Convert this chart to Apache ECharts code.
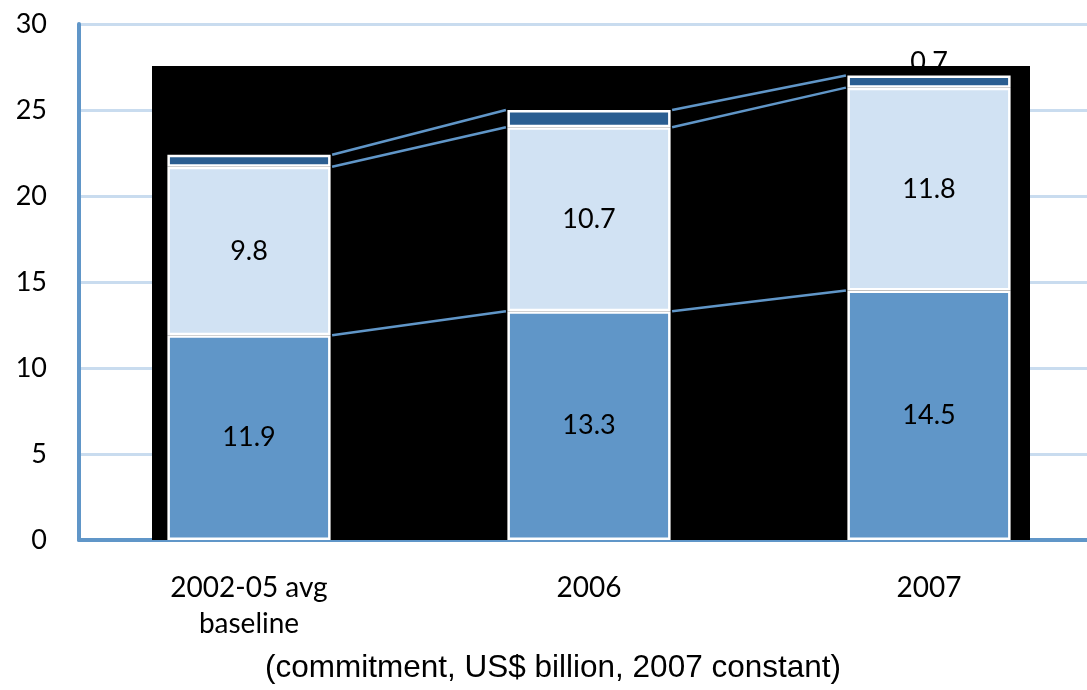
<!DOCTYPE html>
<html>
<head>
<meta charset="utf-8">
<script src="https://cdn.jsdelivr.net/npm/echarts@6/dist/echarts.min.js"></script>
<style>
html,body{margin:0;padding:0;background:#fff;}
#chart{width:1087px;height:690px;}
</style>
</head>
<body>
<div id="chart"></div>
<script>
// ---- data ----
const categories = ['2002-05 avg\nbaseline', '2006', '2007'];
const seriesBase = [11.9, 13.3, 14.5];
const seriesMiddle = [9.8, 10.7, 11.8];
const seriesTop = [0.7, 1.0, 0.7];
const yTicks = [0, 5, 10, 15, 20, 25, 30];
const axisTitle = '(commitment, US$ billion, 2007 constant)';

// cumulative tops used for connector lines
const cum1 = seriesBase.slice();
const cum2 = seriesBase.map((v, i) => v + seriesMiddle[i]);
const cum3 = cum2.map((v, i) => v + seriesTop[i]);
const connectorData = [];
[cum1, cum2, cum3].forEach(c => {
  for (let i = 0; i < c.length - 1; i++) connectorData.push([i, c[i], c[i + 1]]);
});

const BAR_FRAC = 0.48;
const chart = echarts.init(document.getElementById('chart'));
const font = 'Lato, "Open Sans", sans-serif';
const labelStyle = { show: true, color: '#000', fontSize: 27, fontFamily: font };

chart.setOption({
  animation: false,
  backgroundColor: '#fff',
  grid: { left: 79, top: 24, bottom: 150, width: 1020, containLabel: false, outerBoundsMode: 'none' },
  xAxis: {
    type: 'category',
    data: categories,
    boundaryGap: true,
    axisLine: { show: true, lineStyle: { color: '#6096c8', width: 4 } },
    axisTick: { show: false },
    axisLabel: { color: '#000', fontSize: 28, fontFamily: font, margin: 30, lineHeight: 36 },
    name: axisTitle,
    nameLocation: 'middle',
    nameGap: 112,
    nameTextStyle: { color: '#000', fontSize: 31.5, fontFamily: '"Liberation Sans", Arial, sans-serif', padding: [0, 0, 0, -72] }
  },
  yAxis: {
    type: 'value',
    min: 0, max: 30, interval: 5,
    axisLine: { show: true, lineStyle: { color: '#6096c8', width: 4 } },
    axisTick: { show: false },
    axisLabel: { color: '#000', fontSize: 27, fontFamily: font, margin: 32,
      formatter: v => yTicks.includes(v) ? String(v) : '' },
    splitLine: { show: true, lineStyle: { color: '#c9dcef', width: 3 } }
  },
  graphic: [{
    type: 'rect', z: 1,
    shape: { x: 152, y: 66, width: 878, height: 474 },
    style: { fill: '#000' }
  }],
  series: [
    {
      type: 'bar', stack: 'a', data: seriesBase, barWidth: (BAR_FRAC * 100) + '%', z: 3,
      itemStyle: { color: '#6096c8', borderColor: '#fff', borderWidth: 2.5 },
      label: Object.assign({ position: 'inside' }, labelStyle)
    },
    {
      type: 'bar', stack: 'a', data: seriesMiddle, z: 3,
      itemStyle: { color: '#d1e2f3', borderColor: '#fff', borderWidth: 2.5 },
      label: Object.assign({ position: 'inside' }, labelStyle)
    },
    {
      type: 'bar', stack: 'a', data: seriesTop, z: 3,
      itemStyle: { color: '#2a5e91', borderColor: '#fff', borderWidth: 2.5 },
      label: Object.assign({ position: 'top', distance: 0 }, labelStyle)
    },
    {
      type: 'custom', z: 4,
      data: connectorData,
      encode: { x: 0, y: 1 },
      renderItem: function (params, api) {
        const i = api.value(0);
        const p1 = api.coord([i, api.value(1)]);
        const p2 = api.coord([i + 1, api.value(2)]);
        const band = api.size([1, 0])[0];
        const half = band * BAR_FRAC / 2 + 1.5;
        return {
          type: 'line',
          shape: { x1: p1[0] + half, y1: p1[1], x2: p2[0] - half, y2: p2[1] },
          style: { stroke: '#6096c8', lineWidth: 2.5 }
        };
      }
    }
  ]
});
</script>
</body>
</html>
